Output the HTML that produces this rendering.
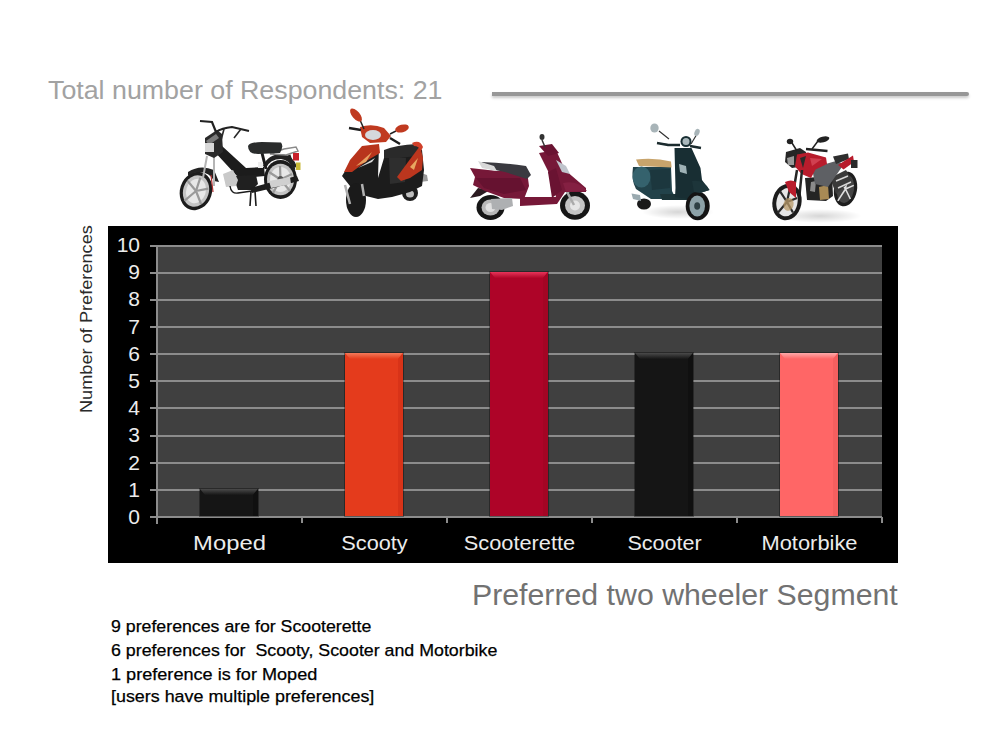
<!DOCTYPE html>
<html><head><meta charset="utf-8">
<style>
html,body{margin:0;padding:0;background:#fff;}
body{width:1000px;height:750px;position:relative;overflow:hidden;font-family:"Liberation Sans",sans-serif;}
.abs{position:absolute;}
.t{position:absolute;white-space:nowrap;transform-origin:0 0;line-height:1;}
#title{left:48px;top:77px;font-size:26px;color:#a2a2a2;transform:scaleX(1.03);}
#hline{left:492px;top:92px;width:477px;height:4px;background:#979797;box-shadow:0 2px 3px rgba(0,0,0,0.22);border-radius:0 2px 2px 0;}
#frame{left:108px;top:226px;width:790px;height:337px;background:#000;}
#plot{left:158px;top:246px;width:724px;height:271px;background:#404040;}
.g{position:absolute;left:150px;width:732px;height:2px;background:#8c8c8c;}
.tick{position:absolute;top:517px;width:2px;height:6px;background:#8c8c8c;}
.yl{position:absolute;width:40px;text-align:right;color:#ececec;font-size:21px;line-height:1;}
.xl{position:absolute;width:145px;text-align:center;color:#ececec;font-size:20px;line-height:1;top:533px;}
.bar{position:absolute;width:58px;box-shadow:0 0 0 1px rgba(0,0,0,0.35);}
.bar::before{content:"";position:absolute;left:0;top:0;right:0;height:6px;background:linear-gradient(var(--hl),var(--base));clip-path:polygon(0 0,100% 0,calc(100% - 5px) 100%,5px 100%);}
.bar::after{content:"";position:absolute;right:0;top:0;bottom:0;width:5px;background:var(--dk);clip-path:polygon(0 6px,100% 0,100% 100%,0 100%);}
#ytitle{color:#2a2a2a;font-size:17.4px;}
#xtitle{left:472px;top:581px;font-size:29px;color:#727272;transform:scaleX(1.044);}
.note{position:absolute;left:111px;font-size:17.4px;color:#000;-webkit-text-stroke:0.25px #000;white-space:nowrap;line-height:1;transform-origin:0 0;}
</style></head><body>
<div id="title" class="t">Total number of Respondents: 21</div>
<div id="hline" class="abs"></div>

<div id="frame" class="abs"></div>
<div id="plot" class="abs"></div>
<div class="g" style="top:245px"></div>
<div class="g" style="top:272px"></div>
<div class="g" style="top:299px"></div>
<div class="g" style="top:326px"></div>
<div class="g" style="top:353px"></div>
<div class="g" style="top:380px"></div>
<div class="g" style="top:407px"></div>
<div class="g" style="top:435px"></div>
<div class="g" style="top:462px"></div>
<div class="g" style="top:489px"></div>
<div class="g" style="top:516px"></div>
<div class="abs" style="left:156px;top:245px;width:2px;height:279px;background:#8c8c8c"></div>
<div class="tick" style="left:301px"></div>
<div class="tick" style="left:446px"></div>
<div class="tick" style="left:591px"></div>
<div class="tick" style="left:736px"></div>
<div class="tick" style="left:881px"></div>

<div class="bar" style="left:200px;top:489px;height:27px;background:#151515;--base:#161616;--hl:#4a4a4a;--dk:#101010"></div>
<div class="bar" style="left:345px;top:353px;height:163px;background:#e43b1c;--base:#e43b1c;--hl:#f47a5a;--dk:#d83318"></div>
<div class="bar" style="left:490px;top:272px;height:244px;background:#ae0428;--base:#b00628;--hl:#e8345a;--dk:#a40524"></div>
<div class="bar" style="left:635px;top:353px;height:163px;background:#151515;--base:#161616;--hl:#4a4a4a;--dk:#101010"></div>
<div class="bar" style="left:780px;top:353px;height:163px;background:#ff6666;--base:#ff6666;--hl:#ffaaaa;--dk:#f55f5f"></div>

<div class="yl" style="left:100px;top:234.0px">10</div>
<div class="yl" style="left:100px;top:261.2px">9</div>
<div class="yl" style="left:100px;top:288.4px">8</div>
<div class="yl" style="left:100px;top:315.6px">7</div>
<div class="yl" style="left:100px;top:342.8px">6</div>
<div class="yl" style="left:100px;top:370.0px">5</div>
<div class="yl" style="left:100px;top:397.2px">4</div>
<div class="yl" style="left:100px;top:424.4px">3</div>
<div class="yl" style="left:100px;top:451.6px">2</div>
<div class="yl" style="left:100px;top:478.8px">1</div>
<div class="yl" style="left:100px;top:506.0px">0</div>

<div class="xl" style="left:157px;transform:scaleX(1.19)">Moped</div>
<div class="xl" style="left:302px;transform:scaleX(1.085)">Scooty</div>
<div class="xl" style="left:447px;transform:scaleX(1.09)">Scooterette</div>
<div class="xl" style="left:592px;transform:scaleX(1.075)">Scooter</div>
<div class="xl" style="left:737px;transform:scaleX(1.094)">Motorbike</div>

<div id="ytitle" class="t" style="left:78px;top:413px;transform:rotate(-90deg) scaleX(1.045)">Number of Preferences</div>
<div id="xtitle" class="t">Preferred two wheeler Segment</div>

<div class="note" style="top:618px;transform:scaleX(1.02)">9 preferences are for Scooterette</div>
<div class="note" style="top:642px;transform:scaleX(1.023)">6 preferences for&nbsp; Scooty, Scooter and Motorbike</div>
<div class="note" style="top:666px;transform:scaleX(1.041)">1 preference is for Moped</div>
<div class="note" style="top:688px;transform:scaleX(1.028)">[users have multiple preferences]</div>

<!-- BIKES -->
<svg class="abs" style="left:170px;top:105px" width="140" height="115" viewBox="170 105 140 115">
<!-- rear wheel -->
<ellipse cx="280.5" cy="179.5" rx="16.5" ry="19.5" fill="#1c1c1c"/>
<ellipse cx="280.5" cy="179.5" rx="13.5" ry="15.8" fill="#c4c4c4"/>
<ellipse cx="280.5" cy="179.5" rx="10.5" ry="12.5" fill="#e8e8e8"/>
<path d="M280.5 179.5 L280 166 M280.5 179.5 L292 174 M280.5 179.5 L290 191 M280.5 179.5 L273 193 M280.5 179.5 L269 172" stroke="#9a9a9a" stroke-width="2.2"/>
<ellipse cx="280.5" cy="179.5" rx="3" ry="3.5" fill="#555"/>
<!-- rear mudguard -->
<path d="M263 166 Q268 154 282 154 Q294 156 297 167 L293 168 Q289 160 281 159 Q270 159 266 168 Z" fill="#222"/>
<!-- rack & taillight -->
<path d="M270 154 L284 149 L296 147 L298 151 L286 155 Z" fill="none" stroke="#8a8a8a" stroke-width="1.5"/>
<rect x="293" y="153" width="6" height="7.5" fill="#c8202a"/>
<rect x="296" y="162.5" width="4.5" height="7.5" fill="#c8b838"/>
<path d="M289 155 L294 170" stroke="#222" stroke-width="3"/>
<!-- main diagonal tube -->
<path d="M213 150 L222 146 L246 168 L264 167 L265 176 L240 178 L236 175 Z" fill="#1c1c1c"/>
<path d="M262 153 L266 169" stroke="#1c1c1c" stroke-width="3"/>
<!-- crankcase / lower -->
<path d="M233 176 L256 175 L258 184 L252 190 L238 190 Z" fill="#202020"/>
<!-- seat -->
<path d="M248 146 Q250 142 262 142 L281 142.5 Q284 146 280 153 L258 154 Q248 154 248 146 Z" fill="#2a2c2c"/>
<!-- small white box under seat -->
<rect x="258" y="162" width="5" height="6" fill="#eee"/>
<!-- engine -->
<path d="M223 174 L233 170 L238 180 L236 186 L226 187 Z" fill="#c9c9c9"/>
<!-- exhaust -->
<path d="M250 188 L272 182 L297 176 L299 181 L273 188 L252 193 Z" fill="#1e1e1e"/>
<path d="M269 181 L290 177 L291 184 L271 188 Z" fill="#d0d0d0"/>
<!-- stand -->
<path d="M251 191 L250 206 M255 191 L256 206" stroke="#1a1a1a" stroke-width="1.6"/>
<path d="M230 186 Q231 194 238 193 L252 191" stroke="#1a1a1a" stroke-width="1.4" fill="none"/>
<!-- front wheel -->
<g transform="rotate(18 196 191)">
<ellipse cx="196" cy="191" rx="16" ry="19.5" fill="#1c1c1c"/>
<ellipse cx="196" cy="191" rx="12.8" ry="16" fill="#c4c4c4"/>
<ellipse cx="196" cy="191" rx="9.8" ry="12.5" fill="#e8e8e8"/>
<path d="M196 191 L196 177 M196 191 L207 185 M196 191 L205 202 M196 191 L188 204 M196 191 L185 184" stroke="#9a9a9a" stroke-width="2.2"/>
</g>
<!-- front fender -->
<path d="M188 172 Q200 164 214 170 L219 182 L214 181 Q210 172 198 172 Q192 173 188 176 Z" fill="#222"/>
<!-- fork -->
<path d="M207 156 L203 178 M214 156 L214 186" stroke="#b5b5b5" stroke-width="2"/>
<path d="M211 175 L213 192" stroke="#b03030" stroke-width="1.2"/>
<!-- headlamp cowl -->
<path d="M205 138 L217 130 L222 134 L223 152 L214 158 L205 154 Z" fill="#2a2a2a"/>
<path d="M206 141 L216 134 L219 138 L209 145 Z" fill="#7a7a7a"/>
<rect x="205" y="143" width="9" height="9" fill="#d8d8d8"/>
<!-- handlebars -->
<path d="M200 121 L212 122 L216 132 M216 132 Q222 128 232 127 L249 131" stroke="#222" stroke-width="2.2" fill="none"/>
<path d="M224 129 L219 148 M241 129 L234 138" stroke="#2a2a2a" stroke-width="1.6" fill="none"/>
</svg>

<svg class="abs" style="left:335px;top:104px" width="100" height="116" viewBox="335 104 100 116">
<!-- rear wheel -->
<ellipse cx="410" cy="193" rx="8" ry="8" fill="#1e1e1e"/>
<ellipse cx="410" cy="194" rx="4" ry="3.5" fill="#bdbdbd"/>
<!-- rear exhaust/silver -->
<path d="M418 172 L427 175 L428 181 L420 182 Z" fill="#9a9a9a"/>
<!-- black main body -->
<path d="M342 176 L352 160 L370 146 L379 145 L378 178 L384 158 L400 156 L417 146 L422 150 L424 170 L422 186 L410 192 L392 197 L378 199 L366 196 L350 186 Z" fill="#1c1c1c"/>
<path d="M389 158 L406 158 L405 182 L390 184 Z" fill="#2e2e2e"/>
<!-- seat -->
<path d="M384 150 Q396 145 417 144 L421 148 L416 156 L400 158 L384 158 Z" fill="#2a2a2a"/>
<!-- rear red panel -->
<path d="M397 177 L408 162 L420 146 L423 158 L422 170 L410 178 L401 181 Z" fill="#bb361e"/>
<path d="M412 143 Q420 139 423 147 L421 151 Q419 146 414 146 Z" fill="#d0402a"/>
<path d="M410 167 L418 158 L414 170 Z" fill="#e8a860"/>
<!-- red front apron -->
<path d="M344 172 L350 160 L362 146 L379 144 L380 153 L368 160 L352 172 Z" fill="#b8341c"/>
<path d="M356 166 L372 152 L366 162 Z" fill="#e8a060"/>
<path d="M358 168 L375 158 L372 162 Z" fill="#d8d8d8"/>
<!-- front wheel -->
<ellipse cx="356" cy="200" rx="10" ry="17" fill="#1a1a1a"/>
<path d="M345 185 L350 204 M362 184 L364 196" stroke="#b0b0b0" stroke-width="2.5"/>
<!-- handlebar cowl -->
<path d="M360 127 Q372 123 384 128 L391 136 L386 142 L370 143 L362 137 Z" fill="#c03a20"/>
<ellipse cx="373" cy="135" rx="8" ry="5" fill="#d5d8dc"/>
<!-- grips -->
<path d="M349 128 L361 130 M390 138 L400 144" stroke="#1e1e1e" stroke-width="2.5"/>
<!-- mirrors -->
<path d="M360 120 L364 129 M390 134 L396 131" stroke="#222" stroke-width="1.5"/>
<ellipse cx="356" cy="115" rx="8" ry="3.8" transform="rotate(50 356 115)" fill="#c03a20"/>
<ellipse cx="402" cy="128.5" rx="7" ry="3.8" transform="rotate(-15 402 128.5)" fill="#c03a20"/>
</svg>

<svg class="abs" style="left:465px;top:130px" width="130" height="95" viewBox="465 130 130 95">
<!-- rear wheel -->
<ellipse cx="490.5" cy="207.5" rx="14" ry="12.5" fill="#161616"/>
<ellipse cx="490.5" cy="207.5" rx="9" ry="8" fill="#b8b8b8"/>
<ellipse cx="490.5" cy="207.5" rx="5" ry="4.5" fill="#e0e0e0"/>
<!-- front wheel -->
<ellipse cx="575" cy="205.5" rx="15" ry="14.3" fill="#161616"/>
<ellipse cx="575" cy="205.5" rx="10" ry="9.5" fill="#c4c4c4"/>
<ellipse cx="575" cy="205.5" rx="5" ry="5" fill="#e6e6e6"/>
<!-- fork -->
<path d="M566 190 L574 205" stroke="#aaa" stroke-width="2.5"/>
<!-- rear mudguard dark -->
<path d="M470 198 L478 188 L490 190 L480 196 Z" fill="#2a1a20"/>
<!-- rear body -->
<path d="M470 168 L497 171 L527 171 L529 186 L524 199 L504 198 L485 191 L473 185 L475 177 Z" fill="#761838"/>
<path d="M476 178 L520 178 L526 190 L504 194 L484 188 Z" fill="#661230"/>
<!-- floorboard + front column -->
<path d="M520 197 L556 197 L548 171 L539 153 L556 150 L565 170 L586 188 L586 192 L565 192 L557 204 L520 206 Z" fill="#761838"/>
<path d="M548 172 L556 168 L562 190 L552 198 Z" fill="#6a1332"/>
<!-- front fender -->
<path d="M563 183 Q578 180 587 191 L566 192 Z" fill="#842042"/>
<!-- headlight -->
<path d="M556 160 L566 166 L570 174 L562 172 Z" fill="#bfc4cc"/>
<!-- seat -->
<path d="M481 162 Q505 163 526 166 L531 175 L527 179 L505 172 L490 169 Z" fill="#3a3a40"/>
<!-- grab rail -->
<path d="M478 161 L482 168 L497 171 L494 166 Z" fill="#d8d8d8"/>
<!-- engine -->
<path d="M491 199 L512 198 L513 206 L502 210 L492 209 Z" fill="#aeb0b2"/>
<!-- handlebar -->
<path d="M539 146 L552 144 L559 153 L548 156 Z" fill="#6a1332"/>
<ellipse cx="542" cy="137" rx="2.5" ry="3" fill="#333"/>
<path d="M542 140 L545 147" stroke="#333" stroke-width="1.5"/>
</svg>

<svg class="abs" style="left:625px;top:118px" width="90" height="108" viewBox="625 118 90 108">
<defs><radialGradient id="vsh" cx="0.5" cy="0.5" r="0.5"><stop offset="0" stop-color="#000" stop-opacity="0.16"/><stop offset="1" stop-color="#000" stop-opacity="0"/></radialGradient></defs>
<ellipse cx="678" cy="212" rx="36" ry="7" fill="url(#vsh)"/>
<!-- rear wheel -->
<ellipse cx="644" cy="204" rx="7" ry="5.5" fill="#1a1a1a"/>
<!-- exhaust -->
<path d="M631.5 193.5 L640 195 L641 201 L633 199 Z" fill="#9aaab0"/>
<!-- rear body -->
<path d="M633 167 L671 167 L672 191 L676 199 L651 199 L636 189 Q631 180 633 167 Z" fill="#22424a"/>
<ellipse cx="641.5" cy="177" rx="9" ry="10.5" fill="#35626d"/>
<path d="M650 170 L670 169 L670 188 L652 190 Z" fill="#1c373e"/>
<!-- floorboard -->
<path d="M660 194 L688 194 L688 200 L662 200 Z" fill="#1c3438"/>
<!-- front column/shield -->
<path d="M674.5 148 L691.5 148 L700.5 168 L702 180 L709.5 190 L700 193 L688 199 L675 197 L675.5 188 Z" fill="#182e33"/>
<path d="M679 164 L686 166 L687 174 L680 172 Z" fill="#9fb2b6"/>
<!-- front wheel -->
<ellipse cx="697.7" cy="206" rx="12" ry="14.3" fill="#141414"/>
<ellipse cx="697.2" cy="206" rx="7.8" ry="10.5" fill="#8da2a8"/>
<ellipse cx="697.2" cy="206" rx="3" ry="3.8" fill="#2e4044"/>
<!-- front fender -->
<path d="M692 181 Q704 179 709.5 190 L700 193 L694 192 Z" fill="#1d353a"/>
<!-- seat -->
<path d="M636 159.5 Q655 157.5 671 161.5 L671.6 167.5 L639 166 Z" fill="#c8a46c"/>
<!-- headlamp -->
<circle cx="686" cy="141.5" r="5.5" fill="#182e33"/>
<circle cx="686" cy="141.5" r="3.5" fill="#aab8bc"/>
<!-- handlebar -->
<path d="M657 143 L668 145 L680 145 M690 146 L701 148" stroke="#1b2b2e" stroke-width="2.5"/>
<path d="M659 131 L669 139 M691 144 L697 134" stroke="#333" stroke-width="1.2"/>
<ellipse cx="654.5" cy="128" rx="4.2" ry="4.5" fill="#a8b4b8"/>
<ellipse cx="697" cy="132.5" rx="2.5" ry="3.8" transform="rotate(20 697 132.5)" fill="#a8b4b8"/>
</svg>

<svg class="abs" style="left:765px;top:130px" width="100" height="96" viewBox="765 130 100 96">
<defs><radialGradient id="msh" cx="0.5" cy="0.5" r="0.5"><stop offset="0" stop-color="#000" stop-opacity="0.16"/><stop offset="1" stop-color="#000" stop-opacity="0"/></radialGradient></defs>
<ellipse cx="820" cy="216" rx="42" ry="7" fill="url(#msh)"/>
<!-- rear wheel -->
<g transform="rotate(10 845.5 189)">
<ellipse cx="845.5" cy="189" rx="11.5" ry="17.5" fill="#1e1e1e"/>
<ellipse cx="845.5" cy="189" rx="8.5" ry="14" fill="#444"/>
<path d="M845.5 189 L845 176 M845.5 189 L853 184 M845.5 189 L852 198 M845.5 189 L840 202 M845.5 189 L838 181" stroke="#e0e0e0" stroke-width="1.6"/>
</g>
<!-- swingarm / rear frame -->
<path d="M830 178 L846 170 L852 180 L836 194 Z" fill="#3a3a3a"/>
<path d="M836 181 L848 176 M838 188 L851 182" stroke="#d8d8d8" stroke-width="1.4"/>
<!-- engine -->
<path d="M805 178 L832 176 L833 196 L826 201 L807 200 Z" fill="#242424"/>
<path d="M819 187 L828 185 L829 199 L820 200 Z" fill="#a88a55"/>
<path d="M811 182 L816 181 L815 192 L810 191 Z" fill="#8a8a8a"/>
<!-- gray side panel -->
<path d="M812 168 L836 161 L844 164 L828 187 L815 184 Z" fill="#5e6064"/>
<!-- seat -->
<path d="M833 156.5 L848 153.5 L849 159 L836 164 Z" fill="#2e2e2e"/>
<!-- rear red tail -->
<path d="M838 165 L853 155.5 L854 162 L843.5 169.5 Z" fill="#b81c2c"/>
<rect x="851" y="160" width="6.5" height="8" fill="#2a2a2a"/>
<!-- headlamp / front cowl -->
<path d="M786 152 L800 148 L806 152 L805 166 L792 168 L785 162 Z" fill="#262626"/>
<path d="M787 158 L794 156 L794 165 L788 165 Z" fill="#9a9a9a"/>
<!-- red tank -->
<path d="M797 154.5 L808 152.5 L826 157.5 L827 164 L815.5 169.5 L811 178 L801.5 174 L795 166.5 Z" fill="#b81c2c"/>
<path d="M800 158 L806 156 L803 168 Z" fill="#2a2a2a"/>
<path d="M810 158 L822 159 L812 166 Z" fill="#d04050"/>
<!-- fork -->
<path d="M797 170 L792 200 M802 170 L799 200" stroke="#262626" stroke-width="2.5"/>
<!-- front wheel -->
<g transform="rotate(12 787 202)">
<ellipse cx="787" cy="202" rx="14.5" ry="18.5" fill="#1c1c1c"/>
<ellipse cx="787" cy="202" rx="10.5" ry="14.5" fill="#e6e6e6"/>
<path d="M787 202 L787 188 M787 202 L796 196 M787 202 L795 211 M787 202 L780 215 M787 202 L778 193" stroke="#2a2a2a" stroke-width="2.2"/>
<ellipse cx="789" cy="204" rx="5" ry="6.5" fill="#b89a68" opacity="0.75"/>
</g>
<!-- front fender red -->
<path d="M785 182 Q791 179 796 182 L796 198 L789 192 Z" fill="#b81c2c"/>
<!-- handlebar & mirrors -->
<path d="M806 149 L827.5 151" stroke="#222" stroke-width="2.5"/>
<path d="M792 143 L797 151 M818 141 L812 149" stroke="#222" stroke-width="1.5"/>
<ellipse cx="790" cy="141.5" rx="3.2" ry="2.8" fill="#222"/>
<ellipse cx="823" cy="139.5" rx="6.5" ry="2.8" transform="rotate(-15 823 139.5)" fill="#222"/>
</svg>

</body></html>
